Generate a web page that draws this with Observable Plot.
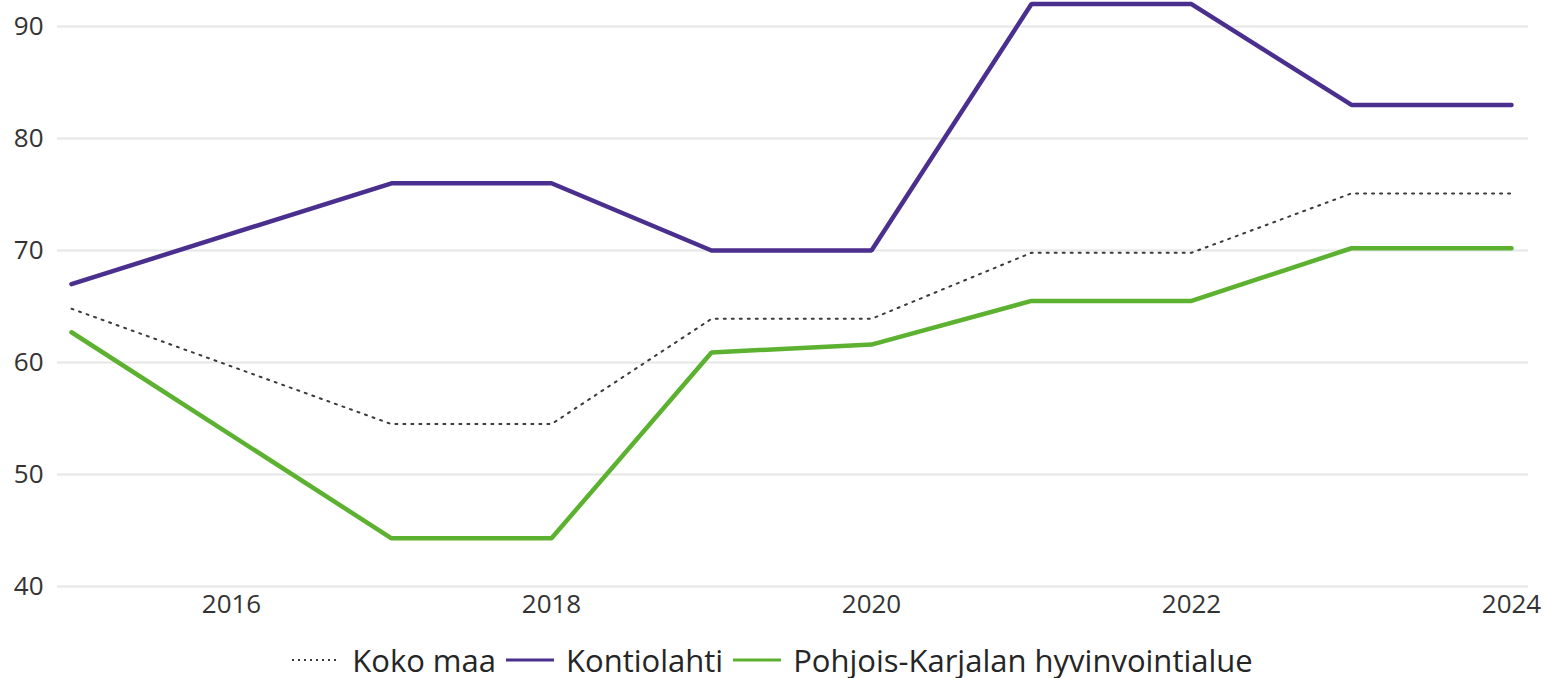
<!DOCTYPE html>
<html>
<head>
<meta charset="utf-8">
<script src="https://cdn.jsdelivr.net/npm/d3@7"></script>
<script src="https://cdn.jsdelivr.net/npm/@observablehq/plot@0.6"></script>
<style>
  html, body { margin: 0; padding: 0; background: #fff; }
  #chart { width: 1545px; }
  .legend { display: flex; justify-content: center; align-items: center; height: 60px;
    font-family: "Open Sans", sans-serif; font-size: 31px; color: #252525; }
  .legend .item { display: flex; align-items: center; margin: 0 5px; }
  .legend svg { margin-right: 12px; }
</style>
</head>
<body>
<div id="chart"></div>
<script>
const years = [2015, 2017, 2018, 2019, 2020, 2021, 2022, 2023, 2024];
const kokoMaa = [64.8, 54.5, 54.5, 63.9, 63.9, 69.8, 69.8, 75.1, 75.1];
const kontiolahti = [67.0, 76.0, 76.0, 70.0, 70.0, 92.0, 92.0, 83.0, 83.0];
const pohjoisKarjala = [62.7, 44.3, 44.3, 60.9, 61.6, 65.5, 65.5, 70.2, 70.2];
const seriesNames = ["Koko maa", "Kontiolahti", "Pohjois-Karjalan hyvinvointialue"];
const seriesColors = ["#3a3a3a", "#4b2f8e", "#5cb230"];
const xTicks = [2016, 2018, 2020, 2022, 2024];
const yTicks = [40, 50, 60, 70, 80, 90];

const toRows = (vals, name) => years.map((y, i) => ({year: y, value: vals[i], series: name}));
const rowsKoko = toRows(kokoMaa, seriesNames[0]);
const rowsKont = toRows(kontiolahti, seriesNames[1]);
const rowsPK = toRows(pohjoisKarjala, seriesNames[2]);

const chart = Plot.plot({
  width: 1545,
  height: 630,
  marginLeft: 57,
  marginRight: 17,
  marginTop: 0,
  marginBottom: 44,
  style: {fontFamily: "'Open Sans', sans-serif", fontSize: "26px", color: "#333", background: "#fff"},
  x: {domain: [2015 - 14/160, 2024 + 17/160], ticks: xTicks, tickFormat: d => String(d), label: null, tickSize: 0, tickPadding: 8},
  y: {domain: [40, 40 + 586/11.2], ticks: yTicks, label: null, tickSize: 0, tickPadding: 14},
  marks: [
    Plot.gridY(yTicks, {stroke: "#e6e6e6", strokeOpacity: 1, strokeWidth: 2}),
    Plot.axisX({ticks: xTicks, tickFormat: d => String(d), tickSize: 0, tickPadding: 8, label: null, fill: "#333"}),
    Plot.axisY({ticks: yTicks, tickSize: 0, tickPadding: 14, label: null, fill: "#333"}),
    Plot.line(rowsKoko, {x: "year", y: "value", stroke: seriesColors[0], strokeWidth: 2, strokeDasharray: "2,6", strokeLinejoin: "round"}),
    Plot.line(rowsPK, {x: "year", y: "value", stroke: seriesColors[2], strokeWidth: 4.5, strokeLinejoin: "miter"}),
    Plot.line(rowsKont, {x: "year", y: "value", stroke: seriesColors[1], strokeWidth: 4.5, strokeLinejoin: "miter"})
  ]
});
document.getElementById("chart").appendChild(chart);

const legend = document.createElement("div");
legend.className = "legend";
seriesNames.forEach((name, i) => {
  const item = document.createElement("div");
  item.className = "item";
  const dashed = i === 0;
  item.innerHTML = `<svg width="48" height="10"><line x1="0" x2="48" y1="5" y2="5" stroke="${seriesColors[i]}" stroke-width="${dashed ? 2 : 3}" ${dashed ? 'stroke-dasharray="2,4"' : ''}/></svg><span>${name}</span>`;
  legend.appendChild(item);
});
document.getElementById("chart").appendChild(legend);
</script>
</body>
</html>
